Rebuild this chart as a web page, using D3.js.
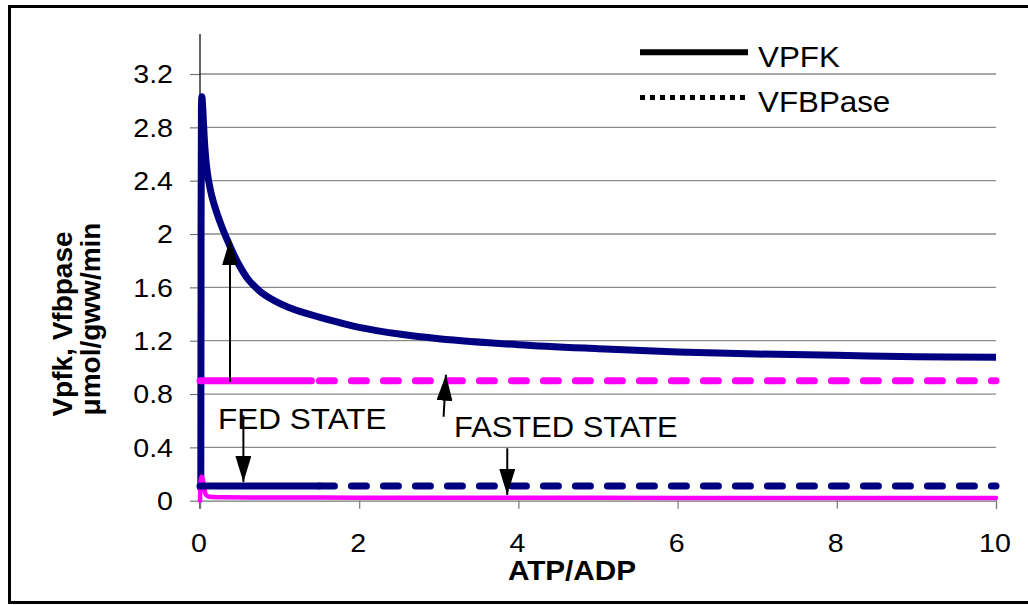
<!DOCTYPE html>
<html>
<head>
<meta charset="utf-8">
<script src="https://cdn.jsdelivr.net/npm/d3@7/dist/d3.min.js"></script>
<style>
  body { margin: 0; background: #fff; }
  svg { display: block; }
  text { font-family: "Liberation Sans", Arial, Helvetica, sans-serif; fill: #000; }
</style>
</head>
<body>
<svg id="chart" width="1028" height="605"></svg>
<script>
// ---- data ----
const xTicks = [0, 2, 4, 6, 8, 10];
const xTickLabels = ["0", "2", "4", "6", "8", "10"];
const yTicks = [0, 0.4, 0.8, 1.2, 1.6, 2, 2.4, 2.8, 3.2];
const yTickLabels = ["0", "0.4", "0.8", "1.2", "1.6", "2", "2.4", "2.8", "3.2"];

// Fed state, VPFK vs ATP/ADP
const fedPfkX = [0.01, 0.013, 0.018, 0.024, 0.032, 0.045, 0.06, 0.08, 0.105, 0.15, 0.21, 0.29, 0.38, 0.48, 0.61, 0.775, 1.0, 1.2, 1.6, 2.0, 2.5, 3.0, 4.0, 5.0, 6.0, 7.0, 8.0, 9.0, 10.0];
const fedPfkY = [0.08, 1.5, 2.95, 3.03, 2.97, 2.82, 2.66, 2.52, 2.41, 2.28, 2.16, 2.03, 1.905, 1.78, 1.656, 1.56, 1.48, 1.43, 1.36, 1.30, 1.25, 1.215, 1.17, 1.14, 1.115, 1.10, 1.09, 1.08, 1.075];

// Fed state, VFBPase
const fedFbpaseX = [0, 0.5, 1, 1.5, 2, 3, 4, 5, 6, 7, 8, 9, 10];
const fedFbpaseY = [0.11, 0.11, 0.11, 0.11, 0.11, 0.11, 0.11, 0.11, 0.11, 0.11, 0.11, 0.11, 0.11];

// Fasted state, VPFK
const fastedPfkX = [0, 0.008, 0.02, 0.035, 0.05, 0.07, 0.1, 0.15, 0.3, 1, 2, 4, 6, 8, 10];
const fastedPfkY = [0, 0.15, 0.18, 0.16, 0.1, 0.05, 0.032, 0.027, 0.025, 0.024, 0.023, 0.022, 0.021, 0.02, 0.02];

// Fasted state, VFBPase
const fastedFbpaseX = [0, 0.5, 1, 1.5, 2, 3, 4, 5, 6, 7, 8, 9, 10];
const fastedFbpaseY = [0.9, 0.9, 0.9, 0.9, 0.9, 0.9, 0.9, 0.9, 0.9, 0.9, 0.9, 0.9, 0.9];

// annotation arrows (data units: from -> to)
const arrowFrom = [[0.377, 0.89], [0.545, 0.64], [3.06, 0.63], [3.86, 0.393]];
const arrowTo   = [[0.377, 1.96], [0.545, 0.14], [3.09, 0.945], [3.86, 0.043]];

const legendNames = ["VPFK", "VFBPase"];

// ---- layout ----
const svg = d3.select("#chart");
const x = d3.scaleLinear().domain([0, 10]).range([200, 996]);
const y = d3.scaleLinear().domain([0, 3.5]).range([500.7, 34]);

const zip = (xs, ys) => xs.map((v, i) => [v, ys[i]]);
const line = d3.line().x(d => x(d[0])).y(d => y(d[1])).curve(d3.curveMonotoneX);
const smoothLine = d3.line().x(d => x(d[0])).y(d => y(d[1])).curve(d3.curveCatmullRom.alpha(0.5));

// outer frame
svg.append("rect")
  .attr("x", 9.5).attr("y", 6.5).attr("width", 1030).attr("height", 596)
  .attr("fill", "none").attr("stroke", "#000").attr("stroke-width", 3);

// gridlines
svg.append("g").selectAll("line")
  .data(yTicks.filter(t => t > 0))
  .join("line")
  .attr("x1", x(0)).attr("x2", x(10))
  .attr("y1", d => y(d)).attr("y2", d => y(d))
  .attr("stroke", "#8a8a8a").attr("stroke-width", 1.3);

// y axis
const yAxis = d3.axisLeft(y).tickValues(yTicks).tickFormat((d, i) => yTickLabels[i]).tickSize(10).tickPadding(0);
const gy = svg.append("g").attr("transform", `translate(${x(0)},0)`).call(yAxis);
gy.select(".domain").remove();
gy.selectAll(".tick line").attr("stroke", "#777").attr("stroke-width", 1.2);
gy.selectAll(".tick text").remove();
svg.append("line").attr("x1", x(0)).attr("x2", x(0)).attr("y1", y(3.5)).attr("y2", y(0) + 8)
  .attr("stroke", "#000").attr("stroke-width", 1.2);
svg.append("g").selectAll("text")
  .data(yTicks)
  .join("text")
  .attr("transform", d => `translate(173,${y(d) + 9.2}) scale(1.1,1)`)
  .attr("text-anchor", "end")
  .attr("font-size", 26)
  .text((d, i) => yTickLabels[i]);

// x axis
const xAxis = d3.axisBottom(x).tickValues(xTicks).tickFormat((d, i) => xTickLabels[i]).tickSize(8);
const gx = svg.append("g").attr("transform", `translate(0,${y(0)})`).call(xAxis);
gx.select(".domain").attr("stroke", "#777").attr("stroke-width", 1.2);
gx.selectAll(".tick line").attr("stroke", "#777").attr("stroke-width", 1.2);
gx.selectAll(".tick text").remove();
svg.append("g").selectAll("text")
  .data(xTicks)
  .join("text")
  .attr("transform", d => `translate(${x(d) - 1},552) scale(1.1,1)`)
  .attr("text-anchor", "middle")
  .attr("font-size", 26)
  .text((d, i) => xTickLabels[i]);

// axis titles
svg.append("text")
  .attr("transform", "translate(572,580) scale(1.1,1)")
  .attr("text-anchor", "middle").attr("font-size", 27).attr("font-weight", "bold")
  .text("ATP/ADP");
svg.append("text")
  .attr("transform", "translate(72,324) rotate(-90)")
  .attr("text-anchor", "middle").attr("font-size", 28).attr("font-weight", "bold")
  .text("Vpfk, Vfbpase");
svg.append("text")
  .attr("transform", "translate(100,319) rotate(-90)")
  .attr("text-anchor", "middle").attr("font-size", 28).attr("font-weight", "bold")
  .text("μmol/gww/min");

// ---- series ----
const navy = "#000080", magenta = "#ff00ff";
const dashStyle = "15,17";

function dashedSeries(pts, color, solidEnd) {
  // the densely sampled start of the series renders as a continuous stroke
  const g = svg.append("g").attr("fill", "none").attr("stroke", color)
    .attr("stroke-width", 7).attr("stroke-linecap", "round");
  g.append("path").attr("d", line(pts.filter(p => p[0] >= solidEnd)))
    .attr("stroke-dasharray", dashStyle);
  g.append("path").attr("d", line(pts.filter(p => p[0] <= solidEnd).concat([[solidEnd, pts[0][1]]])));
}

// fed VPFK (solid navy curve)
svg.append("path").attr("d", smoothLine(zip(fedPfkX, fedPfkY)))
  .attr("fill", "none").attr("stroke", navy).attr("stroke-width", 7)
  .attr("stroke-linejoin", "round");

// fasted VPFK (solid magenta, low)
svg.append("path").attr("d", line(zip(fastedPfkX, fastedPfkY)))
  .attr("fill", "none").attr("stroke", magenta).attr("stroke-width", 4.5)
  .attr("stroke-linejoin", "round").attr("stroke-linecap", "round");

// fed VFBPase (dashed navy)
dashedSeries(zip(fedFbpaseX, fedFbpaseY), navy, 1.5);

// fasted VFBPase (dashed magenta)
dashedSeries(zip(fastedFbpaseX, fastedFbpaseY), magenta, 1.4);

// ---- annotations ----
svg.append("defs").append("marker")
  .attr("id", "head").attr("viewBox", "0 0 26 16")
  .attr("refX", 26).attr("refY", 8)
  .attr("markerWidth", 26).attr("markerHeight", 16)
  .attr("markerUnits", "userSpaceOnUse").attr("orient", "auto")
  .append("path").attr("d", "M0,0L26,8L0,16Z").attr("fill", "#000");

svg.append("text").attr("transform", "translate(218,429) scale(1.05,1)")
  .attr("font-size", 30).text("FED STATE");
svg.append("text").attr("transform", "translate(454,436.7) scale(1.03,1)")
  .attr("font-size", 30).text("FASTED STATE");

svg.append("g").selectAll("line")
  .data(arrowFrom)
  .join("line")
  .attr("x1", d => x(d[0])).attr("y1", d => y(d[1]))
  .attr("x2", (d, i) => x(arrowTo[i][0])).attr("y2", (d, i) => y(arrowTo[i][1]))
  .attr("stroke", "#000").attr("stroke-width", 2)
  .attr("marker-end", "url(#head)");

// ---- legend ----
const legend = svg.append("g");
legend.append("line").attr("x1", 640).attr("x2", 748).attr("y1", 52.3).attr("y2", 52.3)
  .attr("stroke", "#000").attr("stroke-width", 6);
legend.append("line").attr("x1", 640).attr("x2", 748).attr("y1", 97.5).attr("y2", 97.5)
  .attr("stroke", "#000").attr("stroke-width", 5).attr("stroke-dasharray", "5,5");
legend.selectAll("text")
  .data(legendNames)
  .join("text")
  .attr("transform", (d, i) => `translate(758,${66.7 + i * 45}) scale(1.08,1)`)
  .attr("font-size", 29)
  .text(d => d);
</script>
</body>
</html>
